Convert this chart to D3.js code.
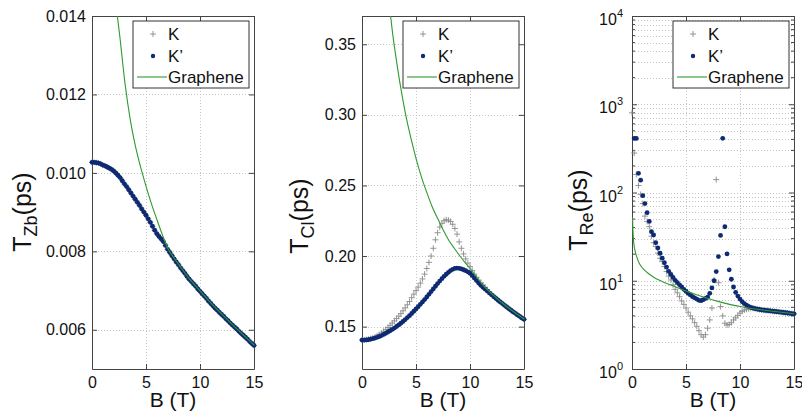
<!DOCTYPE html>
<html>
<head>
<meta charset="utf-8">
<script src="https://cdn.jsdelivr.net/npm/d3@7"></script>
<style>
  body { margin: 0; background: #fff; }
  svg { font-family: "Liberation Sans", Arial, Helvetica, sans-serif; }
</style>
</head>
<body>
<svg id="chart" width="802" height="417"></svg>
<script>
// magnetic field grid (T)
const B = [0, 0.2, 0.4, 0.6, 0.8, 1, 1.2, 1.4, 1.6, 1.8, 2, 2.2, 2.4, 2.6, 2.8, 3, 3.2, 3.4, 3.6, 3.8,
  4, 4.2, 4.4, 4.6, 4.8, 5, 5.2, 5.4, 5.6, 5.8, 6, 6.2, 6.4, 6.6, 6.8, 7, 7.2, 7.4, 7.6, 7.8,
  8, 8.2, 8.4, 8.6, 8.8, 9, 9.2, 9.4, 9.6, 9.8, 10, 10.2, 10.4, 10.6, 10.8, 11, 11.2, 11.4, 11.6, 11.8,
  12, 12.2, 12.4, 12.6, 12.8, 13, 13.2, 13.4, 13.6, 13.8, 14, 14.2, 14.4, 14.6, 14.8, 15];

// T_Zb (ps) : K and K' coincide
const tzbK = [0.01027, 0.01027, 0.01026, 0.01025, 0.01023, 0.01020, 0.01018, 0.01015, 0.01012, 0.01009,
  0.01005, 0.01000, 0.00994, 0.00988, 0.00980, 0.00972, 0.00965, 0.00957, 0.00949, 0.00941,
  0.00933, 0.00925, 0.00917, 0.00908, 0.00900, 0.00892, 0.00883, 0.00874, 0.00864, 0.00854,
  0.00845, 0.00838, 0.00832, 0.00825, 0.00815, 0.00805, 0.00797, 0.00789, 0.00781, 0.00773,
  0.00766, 0.00758, 0.00751, 0.00744, 0.00736, 0.00729, 0.00723, 0.00717, 0.00711, 0.00704,
  0.00698, 0.00692, 0.00686, 0.00680, 0.00673, 0.00667, 0.00661, 0.00655, 0.00650, 0.00644,
  0.00639, 0.00634, 0.00628, 0.00623, 0.00617, 0.00612, 0.00607, 0.00602, 0.00596, 0.00591,
  0.00586, 0.00581, 0.00576, 0.00570, 0.00565, 0.00560];
const tzbKp = tzbK;
const grB1 = [2.3, 2.5, 3, 3.5, 4, 4.5, 5, 5.5, 6, 6.5, 7, 7.5, 8, 9, 10, 11, 12, 13, 14, 15];
const grZb = [0.0140, 0.01355, 0.0123, 0.01135, 0.01065, 0.01010, 0.00962, 0.00918, 0.00878, 0.00840,
  0.00806, 0.00785, 0.00766, 0.00729, 0.00698, 0.00667, 0.00639, 0.00612, 0.00586, 0.00560];

// T_Cl (ps)
const tclK = [0.1405, 0.1406, 0.1408, 0.1411, 0.1415, 0.1420, 0.1427, 0.1435, 0.1444, 0.1455,
  0.1467, 0.1480, 0.1494, 0.1509, 0.1525, 0.1541, 0.1557, 0.1574, 0.1592, 0.1612,
  0.1633, 0.1655, 0.1678, 0.1705, 0.1730, 0.1755, 0.1780, 0.1808, 0.1838, 0.1872,
  0.1912, 0.1955, 0.2000, 0.2055, 0.2115, 0.2165, 0.2205, 0.2232, 0.2250, 0.2257,
  0.2255, 0.2245, 0.2225, 0.2195, 0.2155, 0.2100, 0.2055, 0.2015, 0.1980, 0.1950,
  0.1925, 0.1898, 0.1872, 0.1850, 0.1830, 0.1810, 0.1795, 0.1778, 0.1762, 0.1746,
  0.1730, 0.1715, 0.1702, 0.1687, 0.1675, 0.1663, 0.1651, 0.1639, 0.1627, 0.1616,
  0.1604, 0.1594, 0.1583, 0.1573, 0.1562, 0.1552];
const tclKp = [0.1405, 0.1405, 0.1406, 0.1408, 0.1411, 0.1415, 0.1419, 0.1424, 0.1430, 0.1437,
  0.1445, 0.1453, 0.1462, 0.1471, 0.1480, 0.1490, 0.1501, 0.1512, 0.1524, 0.1537,
  0.1550, 0.1564, 0.1578, 0.1593, 0.1609, 0.1625, 0.1641, 0.1658, 0.1675, 0.1692,
  0.1710, 0.1729, 0.1748, 0.1767, 0.1786, 0.1805, 0.1823, 0.1840, 0.1856, 0.1871,
  0.1885, 0.1897, 0.1906, 0.1912, 0.1915, 0.1913, 0.1909, 0.1903, 0.1896, 0.1888,
  0.1878, 0.1862, 0.1844, 0.1826, 0.1809, 0.1793, 0.1779, 0.1765, 0.1752, 0.1738,
  0.1725, 0.1712, 0.1700, 0.1687, 0.1675, 0.1663, 0.1651, 0.1639, 0.1627, 0.1616,
  0.1604, 0.1594, 0.1583, 0.1573, 0.1562, 0.1552];
const grB2 = [2.6, 2.8, 3, 3.5, 4, 4.5, 5, 5.5, 6, 6.5, 7, 7.5, 8, 8.5, 9, 9.5, 10, 10.5, 11, 12, 13, 14, 15];
const grCl = [0.370, 0.357, 0.346, 0.321, 0.300, 0.283, 0.268, 0.255, 0.244, 0.234, 0.226, 0.218,
  0.211, 0.2055, 0.2002, 0.1953, 0.1908, 0.1858, 0.1808, 0.1730, 0.1664, 0.1605, 0.1552];

// T_Re (ps), log axis
const treK = [800, 280, 160, 120, 95, 75, 54, 47, 41, 32,
  27, 24.4, 20.6, 18, 16.5, 14.5, 12.7, 11.3, 10.2, 9.0,
  8.0, 7.3, 6.6, 5.9, 5.4, 4.9, 4.4, 4.0, 3.7, 3.35,
  3.05, 2.72, 2.45, 2.3, 2.45, 2.9, 3.6, 4.9, 10.2, 140,
  9.5, 5.1, 4.0, 3.3, 3.15, 3.2, 3.35, 3.6, 3.8, 4.05,
  4.3, 4.5, 4.65, 4.75, 4.82, 4.87, 4.88, 4.83, 4.77, 4.72,
  4.67, 4.64, 4.61, 4.58, 4.55, 4.52, 4.49, 4.46, 4.43, 4.40,
  4.37, 4.34, 4.31, 4.28, 4.25, 4.22];
const treKp = [null, 410, 410, 165, 138, 92, 75, 59, 47, 36,
  33, 27, 23.5, 20.5, 18, 16, 14.3, 12.8, 11.8, 10.9,
  10.1, 9.5, 9.0, 8.5, 8.0, 7.6, 7.2, 6.9, 6.6, 6.4,
  6.2, 6.0, 5.95, 6.1, 6.3, 6.5, 7.2, 8.3, 10, 12.7,
  18.8, 32.6, 411, 40.9, 20.2, 13.3, 10.4, 8.5, 7.4, 6.7,
  6.2, 5.8, 5.5, 5.3, 5.12, 4.98, 4.9, 4.83, 4.77, 4.72,
  4.67, 4.64, 4.61, 4.58, 4.55, 4.52, 4.49, 4.46, 4.43, 4.40,
  4.37, 4.34, 4.31, 4.28, 4.25, 4.22];
const grB3 = [0, 0.05, 0.1, 0.2, 0.4, 0.6, 0.8, 1, 1.5, 2, 2.5, 3, 3.5, 4, 5, 6, 7, 8, 9, 10, 11, 12, 13, 14, 15];
const grRe = [52, 35, 28, 23, 18.5, 16, 14.6, 13.6, 12, 10.9, 10.1, 9.5, 9.0, 8.5, 7.6, 6.9, 6.3,
  5.8, 5.4, 5.1, 4.85, 4.67, 4.52, 4.37, 4.22];

const xTicks = [0, 5, 10, 15];
const legendNames = ["K", "K\u2019", "Graphene"];

const svg = d3.select("#chart");
const plotTop = 16, plotBottom = 369, plotW = 162;
const cK = "#8a8a8a", cKp = "#0d2a73", cGr = "#2f9a2f";
const font = "Liberation Sans, Arial, sans-serif";

const panels = [
  { x0: 92, K: tzbK, Kp: tzbKp, gB: grB1, gV: grZb, log: false, domain: [0.005, 0.014],
    ticks: [0.006, 0.008, 0.010, 0.012, 0.014], fmt: d3.format(".3f"), sub: "Zb", labelX: 31, labelY: 212 },
  { x0: 362, K: tclK, Kp: tclKp, gB: grB2, gV: grCl, log: false, domain: [0.12, 0.37],
    ticks: [0.15, 0.20, 0.25, 0.30, 0.35], fmt: d3.format(".2f"), sub: "Cl", labelX: 308, labelY: 216 },
  { x0: 632, K: treK, Kp: treKp, gB: grB3, gV: grRe, log: true, domain: [1, 10000],
    ticks: [1, 10, 100, 1000, 10000], sub: "Re", labelX: 587, labelY: 210 }
];

panels.forEach((p, pi) => {
  const g = svg.append("g");
  const x = d3.scaleLinear().domain([0, 15]).range([p.x0, p.x0 + plotW]);
  const y = (p.log ? d3.scaleLog() : d3.scaleLinear()).domain(p.domain).range([plotBottom, plotTop]);

  const clipId = "clip" + pi;
  svg.append("clipPath").attr("id", clipId)
    .append("rect").attr("x", p.x0 - 1).attr("y", plotTop).attr("width", plotW + 2).attr("height", plotBottom - plotTop);

  // dotted grid
  const grid = g.append("g").attr("stroke", "#c4c4c4").attr("stroke-dasharray", "1,2").attr("stroke-width", 1);
  grid.selectAll(".gx").data(xTicks.slice(1, -1)).join("line")
    .attr("x1", d => x(d) + 0.5).attr("x2", d => x(d) + 0.5).attr("y1", plotTop).attr("y2", plotBottom);
  const yGrid = p.log ? y.ticks() : p.ticks;
  grid.selectAll(".gy").data(yGrid.filter(d => y(d) > plotTop + 1 && y(d) < plotBottom - 1)).join("line")
    .attr("x1", p.x0).attr("x2", p.x0 + plotW).attr("y1", d => Math.round(y(d)) + 0.5).attr("y2", d => Math.round(y(d)) + 0.5);

  // axes: box with inward ticks (below the data, as in the original)
  const axisG = g.append("g");
  axisG.append("g").attr("transform", `translate(0,${plotBottom})`)
    .call(d3.axisBottom(x).tickValues(xTicks).tickSizeInner(-5).tickSizeOuter(0).tickPadding(8))
    .attr("font-size", 16).attr("font-family", font);
  axisG.append("g").attr("transform", `translate(0,${plotTop})`)
    .call(d3.axisTop(x).tickValues(xTicks).tickSizeInner(-5).tickSizeOuter(0).tickFormat(""));
  axisG.append("g").attr("transform", `translate(${p.x0},0)`)
    .call(d3.axisLeft(y).tickValues(p.ticks).tickSizeInner(-5).tickSizeOuter(0).tickPadding(6)
      .tickFormat(p.log ? "" : p.fmt))
    .attr("font-size", 16).attr("font-family", font);
  axisG.append("g").attr("transform", `translate(${p.x0 + plotW},0)`)
    .call(d3.axisRight(y).tickValues(p.ticks).tickSizeInner(-5).tickSizeOuter(0).tickFormat(""));
  axisG.selectAll(".domain").attr("stroke", "#444");
  axisG.selectAll(".tick line").attr("stroke", "#444");
  axisG.selectAll("text").attr("fill", "#111");

  if (p.log) {
    // minor ticks
    const minor = y.ticks().filter(d => !p.ticks.includes(d));
    axisG.append("g").selectAll("line").data(minor).join("line")
      .attr("x1", p.x0).attr("x2", p.x0 + 3).attr("y1", d => y(d)).attr("y2", d => y(d)).attr("stroke", "#444");
    axisG.append("g").selectAll("line").data(minor).join("line")
      .attr("x1", p.x0 + plotW - 3).attr("x2", p.x0 + plotW).attr("y1", d => y(d)).attr("y2", d => y(d)).attr("stroke", "#444");
    // 10^n labels
    const lab = axisG.append("g").attr("font-size", 16).attr("font-family", font)
      .selectAll("text").data(p.ticks).join("text")
      .attr("x", p.x0 - 9).attr("y", d => y(d) + 9).attr("text-anchor", "end").attr("fill", "#111");
    lab.append("tspan").text("10");
    lab.append("tspan").attr("font-size", 11).attr("dy", -8).text(d => Math.round(Math.log10(d)));
  }

  const data = g.append("g");
  // K : plus markers
  data.append("g").selectAll("path")
    .data(B.map((b, i) => [b, p.K[i]]).filter(d => d[1] != null))
    .join("path")
    .attr("d", d => `M${x(d[0]) - 3},${y(d[1])}h6M${x(d[0])},${y(d[1]) - 3}v6`)
    .attr("stroke", cK).attr("stroke-width", 0.9).attr("fill", "none");
  // K' : dots
  data.append("g").selectAll("circle")
    .data(B.map((b, i) => [b, p.Kp[i]]).filter(d => d[1] != null))
    .join("circle")
    .attr("cx", d => x(d[0])).attr("cy", d => y(d[1])).attr("r", 2.4)
    .attr("fill", cKp);
  // graphene line
  data.append("path")
    .attr("clip-path", `url(#${clipId})`)
    .datum(p.gB.map((b, i) => [b, p.gV[i]]))
    .attr("fill", "none").attr("stroke", cGr).attr("stroke-width", 1.1)
    .attr("d", d3.line().x(d => x(d[0]) + 0.5).y(d => y(d[1])).curve(d3.curveMonotoneX));

  // axis labels
  svg.append("text").attr("x", p.x0 + plotW / 2).attr("y", 407).attr("text-anchor", "middle")
    .attr("font-size", 21).attr("fill", "#111").text("B (T)");
  const yl = svg.append("text")
    .attr("transform", `translate(${p.labelX},${p.labelY}) rotate(-90)`)
    .attr("text-anchor", "middle").attr("font-size", 25).attr("fill", "#111");
  yl.append("tspan").text("T");
  yl.append("tspan").attr("font-size", 18).attr("dy", 6).text(p.sub);
  yl.append("tspan").attr("dy", -6).text("(ps)");

  // legend
  const lg = svg.append("g").attr("transform", `translate(${p.x0 + 41},21)`);
  lg.append("rect").attr("width", 116).attr("height", 67)
    .attr("fill", "#fff").attr("stroke", "#333").attr("stroke-width", 1);
  lg.append("path").attr("d", "M17,13h6M20,10v6").attr("stroke", cK).attr("stroke-width", 0.9);
  lg.append("circle").attr("cx", 20).attr("cy", 35).attr("r", 2.2).attr("fill", cKp);
  lg.append("line").attr("x1", 4).attr("x2", 34).attr("y1", 56).attr("y2", 56)
    .attr("stroke", cGr).attr("stroke-width", 1.1);
  lg.selectAll("text.lt").data(legendNames).join("text")
    .attr("x", 35).attr("y", (d, i) => 19 + i * 21.5)
    .attr("font-size", 17).attr("fill", "#111").text(d => d);
});
</script>
</body>
</html>
